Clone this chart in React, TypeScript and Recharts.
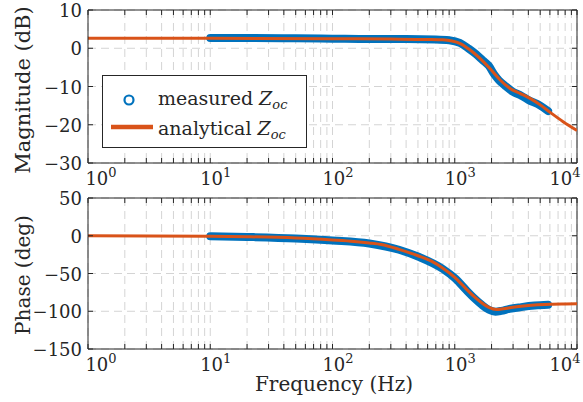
import React from "react";
import { LineChart, Line, XAxis, YAxis, CartesianGrid, ReferenceLine, Legend } from "recharts";

const FONT = "'DejaVu Serif', serif";
const BLUE = "#0072BD";
const ORANGE = "#D95319";
const AXIS = "#262626";
const GRID = "#d4d4d4";

// x axis: log decades 1 Hz .. 10 kHz, with minor ticks
const freqTicks = [
  1, 2, 3, 4, 5, 6, 7, 8, 9,
  10, 20, 30, 40, 50, 60, 70, 80, 90,
  100, 200, 300, 400, 500, 600, 700, 800, 900,
  1000, 2000, 3000, 4000, 5000, 6000, 7000, 8000, 9000,
  10000,
];
const majorFreq = [1, 10, 100, 1000, 10000];
const majorExp = ["0", "1", "2", "3", "4"];

const magTicks = [10, 0, -10, -20, -30];
const phaseTicks = [50, 0, -50, -100, -150];

// magnitude (dB)
const measuredMagFreq = [10, 20, 50, 100, 200, 400, 700, 900, 1100, 1300, 1500, 1700, 1900, 2100, 2300, 2600, 3000, 3500, 4000, 5000, 5800];
const measuredMagDb = [2.7, 2.7, 2.6, 2.5, 2.4, 2.4, 2.3, 2.1, 1.4, -0.1, -1.6, -3.2, -4.6, -6.8, -8.4, -9.9, -11.4, -12.4, -13.5, -15.0, -16.4];
const analyticalMagFreq = [1, 10, 100, 300, 600, 800, 950, 1100, 1330, 1600, 1940, 2350, 2830, 3420, 4130, 5000, 6000, 7700, 10000];
const analyticalMagDb = [2.6, 2.6, 2.5, 2.4, 2.3, 2.2, 1.9, 1.3, -0.4, -2.6, -5.3, -8.3, -10.5, -11.8, -13.1, -14.8, -16.7, -19.2, -21.5];

// phase (deg)
const measuredPhFreq = [10, 20, 50, 100, 200, 350, 500, 800, 1000, 1250, 1450, 1650, 1900, 2150, 2400, 2800, 3500, 4500, 5800];
const measuredPhDeg = [-0.5, -1.6, -3.6, -6.2, -10.2, -18.5, -27.5, -44, -56, -72.5, -83, -91, -98, -100.5, -99.5, -96.8, -94.5, -92.5, -91.5];
const analyticalPhFreq = [1, 10, 20, 50, 100, 150, 200, 250, 350, 500, 650, 800, 1000, 1250, 1450, 1650, 1900, 2200, 2500, 3000, 3500, 4500, 6000, 8000, 10000];
const analyticalPhDeg = [0, -0.6, -1.3, -3, -5.6, -7.5, -9.5, -11.5, -18, -26.5, -34, -43, -55, -71, -81, -88.5, -95, -97.8, -96.8, -94.8, -93.5, -91.8, -90.8, -90.4, -90.2];

const zip = (fs: number[], vs: number[]) => fs.map((f, i) => ({ f, v: vs[i] }));

const measuredMag = zip(measuredMagFreq, measuredMagDb);
const analyticalMag = zip(analyticalMagFreq, analyticalMagDb);
const measuredPh = zip(measuredPhFreq, measuredPhDeg);
const analyticalPh = zip(analyticalPhFreq, analyticalPhDeg);

const W = 583;
const PLOT_W = 489;

function makeFreqTick(plotH: number) {
  return (props: any) => {
    const { x, y, payload } = props;
    const idx = majorFreq.indexOf(payload.value);
    const shift = idx === 0 ? 13 : idx === majorFreq.length - 1 ? -12 : 5.5;
    return (
      <g>
        <line x1={x} x2={x} y1={y} y2={y - 5} stroke={AXIS} />
        <line x1={x} x2={x} y1={y - plotH} y2={y - plotH + 5} stroke={AXIS} />
        {idx >= 0 && (
          <text x={x + shift} y={y + 22} textAnchor="middle" fontFamily={FONT} fontSize={18} fill={AXIS}>
            10
            <tspan dy={-8} fontSize={13}>
              {majorExp[idx]}
            </tspan>
          </text>
        )}
      </g>
    );
  };
}

function YTick(props: any) {
  const { x, y, payload } = props;
  const v = payload.value as number;
  const txt = v < 0 ? "\u2212" + Math.abs(v) : String(v);
  return (
    <g>
      <line x1={x} x2={x + 5} y1={y} y2={y} stroke={AXIS} />
      <line x1={x + PLOT_W} x2={x + PLOT_W - 5} y1={y} y2={y} stroke={AXIS} />
      <text x={x - 6} y={y + 7} textAnchor="end" fontFamily={FONT} fontSize={18} fill={AXIS}>
        {txt}
      </text>
    </g>
  );
}

const yTitle = (text: string, cy: number, size: number) => () =>
  (
    <text
      x={30}
      y={cy}
      transform={`rotate(-90 30 ${cy})`}
      textAnchor="middle"
      fontFamily={FONT}
      fontSize={size}
      fill={AXIS}
    >
      {text}
    </text>
  );

// second chart starts at page y = 180
const xTitle = () => (
  <text x={334} y={211} textAnchor="middle" fontFamily={FONT} fontSize={20} fill={AXIS}>
    Frequency (Hz)
  </text>
);

function LegendBox() {
  return (
    <div
      style={{
        position: "relative",
        width: 205,
        height: 73,
        boxSizing: "border-box",
        border: `1px solid ${AXIS}`,
        background: "#fff",
      }}
    >
      <svg width={203} height={71} style={{ position: "absolute", left: 0, top: 0 }}>
        <circle cx={26} cy={24} r={4.5} fill="none" stroke={BLUE} strokeWidth={2.2} />
        <line x1={8} x2={50} y1={51} y2={51} stroke={ORANGE} strokeWidth={4.5} />
        <text x={55} y={29} fontFamily={FONT} fontSize={19} fill={AXIS}>
          measured <tspan fontStyle="italic">Z</tspan>
          <tspan fontStyle="italic" fontSize={13} dy={4}>
            oc
          </tspan>
        </text>
        <text x={55} y={59} fontFamily={FONT} fontSize={19} fill={AXIS}>
          analytical <tspan fontStyle="italic">Z</tspan>
          <tspan fontStyle="italic" fontSize={13} dy={4}>
            oc
          </tspan>
        </text>
      </svg>
    </div>
  );
}

export default function App() {
  return (
    <div style={{ position: "absolute", left: 0, top: 0, width: W, height: 402, background: "#fff" }}>
      <div style={{ position: "absolute", left: 0, top: 0 }}>
        <LineChart width={W} height={192} margin={{ top: 10, right: 6, bottom: 0, left: 0 }}>
          <CartesianGrid strokeDasharray="8 5" stroke={GRID} />
          <XAxis
            dataKey="f"
            type="number"
            scale="log"
            domain={[1, 10000]}
            allowDataOverflow
            ticks={freqTicks}
            interval={0}
            tickSize={0}
            tickMargin={0}
            tickLine={false}
            height={29}
            axisLine={{ stroke: AXIS }}
            tick={makeFreqTick(153)}
          />
          <YAxis
            type="number"
            domain={[-30, 10]}
            ticks={magTicks}
            interval={0}
            tickSize={0}
            tickMargin={0}
            tickLine={false}
            width={88}
            axisLine={{ stroke: AXIS }}
            tick={YTick}
            label={{ content: yTitle("Magnitude (dB)", 90, 21) }}
          />
          <ReferenceLine y={10} stroke={AXIS} />
          <ReferenceLine x={10000} stroke={AXIS} />
          <Line
            data={measuredMag}
            dataKey="v"
            name="measured"
            type="monotone"
            stroke={BLUE}
            strokeWidth={8}
            strokeLinecap="round"
            dot={false}
            isAnimationActive={false}
          />
          <Line
            data={analyticalMag}
            dataKey="v"
            name="analytical"
            type="monotone"
            stroke={ORANGE}
            strokeWidth={3}
            dot={false}
            isAnimationActive={false}
          />
          <Legend
            verticalAlign="middle"
            align="center"
            content={() => <LegendBox />}
            wrapperStyle={{ left: 102, top: 75, width: 205, height: 73 }}
          />
        </LineChart>
      </div>
      <div style={{ position: "absolute", left: 0, top: 180 }}>
        <LineChart width={W} height={222} margin={{ top: 18, right: 6, bottom: 0, left: 0 }}>
          <CartesianGrid strokeDasharray="8 5" stroke={GRID} />
          <XAxis
            dataKey="f"
            type="number"
            scale="log"
            domain={[1, 10000]}
            allowDataOverflow
            ticks={freqTicks}
            interval={0}
            tickSize={0}
            tickMargin={0}
            tickLine={false}
            height={53}
            axisLine={{ stroke: AXIS }}
            tick={makeFreqTick(151)}
            label={{ content: xTitle }}
          />
          <YAxis
            type="number"
            domain={[-150, 50]}
            ticks={phaseTicks}
            interval={0}
            tickSize={0}
            tickMargin={0}
            tickLine={false}
            width={88}
            axisLine={{ stroke: AXIS }}
            tick={YTick}
            label={{ content: yTitle("Phase (deg)", 95, 20) }}
          />
          <ReferenceLine y={50} stroke={AXIS} />
          <ReferenceLine x={10000} stroke={AXIS} />
          <Line
            data={measuredPh}
            dataKey="v"
            type="monotone"
            stroke={BLUE}
            strokeWidth={8}
            strokeLinecap="round"
            dot={false}
            isAnimationActive={false}
          />
          <Line
            data={analyticalPh}
            dataKey="v"
            type="monotone"
            stroke={ORANGE}
            strokeWidth={3}
            dot={false}
            isAnimationActive={false}
          />
        </LineChart>
      </div>
    </div>
  );
}
